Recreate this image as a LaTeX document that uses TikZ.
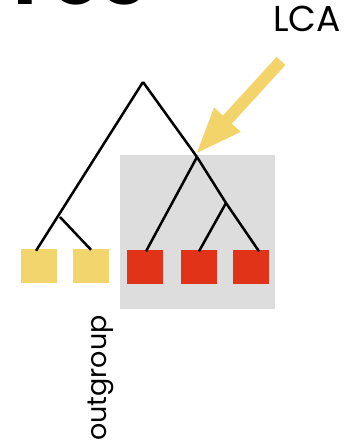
\documentclass[tikz,border=0pt]{standalone}
\usepackage{fontspec}
\setmainfont{Poppins}
\usetikzlibrary{arrows.meta}
\definecolor{sqyellow}{HTML}{F3D56E}
\definecolor{arryellow}{HTML}{F2D46A}
\definecolor{sqred}{HTML}{E03318}
\definecolor{boxgray}{HTML}{DDDDDD}
\tikzset{
  leafbox/.style={minimum width=36pt, minimum height=34pt, inner sep=0pt, draw=none},
  branch/.style={line width=2.5pt, black},
}
\begin{document}
\begin{tikzpicture}[x=1pt,y=-1pt]
\useasboundingbox (0,0) rectangle (346,444);
\begin{scope}
\clip (0,0) rectangle (346,444);
\node[anchor=base west, inner sep=0pt, font=\bfseries\fontsize{80}{80}\selectfont] (title) at (-2,5) {Yes};
\end{scope}
\fill[boxgray] (120,155) rectangle (275,309);
\node[leafbox, fill=sqyellow] (y1) at (39,266) {};
\node[leafbox, fill=sqyellow] (y2) at (91,266) {};
\node[leafbox, fill=sqred] (r1) at (145,266.5) {};
\node[leafbox, fill=sqred] (r2) at (199,266.5) {};
\node[leafbox, fill=sqred] (r3) at (251,266.5) {};
\coordinate (root) at (143,82);
\coordinate (og) at (60,217);
\coordinate (lca) at (197,157);
\coordinate (in2) at (226,203);
\draw[branch] (root) -- ([xshift=-3pt,yshift=-2pt]y1.north);
\draw[branch] (og) -- ([yshift=-1pt]y2.north);
\draw[branch] (root) -- (lca);
\draw[branch] (lca) -- ([xshift=1pt,yshift=-2pt]r1.north);
\draw[branch] (lca) -- (in2);
\draw[branch] (in2) -- ([xshift=8pt,yshift=-2pt]r3.north);
\draw[branch] (in2) -- ([yshift=-2pt]r2.north);
\node[anchor=base east, inner sep=0pt, font=\fontsize{36}{36}\selectfont] (lcalabel) at (341,32) {LCA};
\coordinate (tail) at (281,61);
\coordinate (tip) at (195,155);
\draw[line width=12pt, arryellow, -{Triangle[width=32pt,length=48pt]}] (tail) -- (tip);
\node[rotate=90, anchor=base west, inner sep=0pt, font=\fontsize{27}{27}\selectfont] (outg) at (106,441) {outgroup};
\end{tikzpicture}
\end{document}
